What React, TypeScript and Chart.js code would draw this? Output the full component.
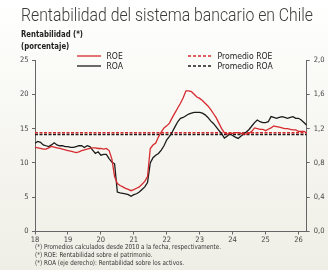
import { useEffect, useRef } from "react";
import { Chart, registerables } from "chart.js";

Chart.register(...registerables);

// Monthly series, starting January 2018 (month index 0)
const START_YEAR = 18;
const roe = [
  12.3, 12.2, 12.1, 12.0, 12.0, 12.2, 12.4, 12.3, 12.2, 12.1,
  12.0, 11.9, 11.8, 11.7, 11.6, 11.5, 11.6, 11.8, 11.9, 12.0,
  12.1, 12.2, 12.2, 12.1, 12.1, 12.0, 12.1, 11.8, 10.6, 8.0,
  7.0, 6.7, 6.5, 6.3, 6.15, 5.95, 6.1, 6.3, 6.5, 6.9,
  7.3, 8.0, 12.1, 12.6, 12.9, 13.8, 14.5, 15.1, 15.4, 15.8,
  16.6, 17.3, 18.0, 18.7, 19.5, 20.5, 20.5, 20.4, 20.0, 19.6,
  19.4, 19.1, 18.7, 18.3, 17.8, 17.2, 16.6, 15.8, 15.0, 14.4,
  14.2, 14.3, 14.3, 14.4, 14.4, 14.3, 14.2, 14.2, 14.3, 14.6,
  15.1, 15.0, 14.9, 14.9, 14.7, 14.9, 15.1, 15.4, 15.3, 15.2,
  15.1, 15.0, 15.0, 14.9, 14.8, 14.8, 14.6, 14.6, 14.6, 14.4,
];
const roa = [
  1.03, 1.05, 1.04, 1.01, 1.0, 0.99, 1.01, 1.035, 1.01, 1.0,
  1.0, 0.99, 0.99, 0.98, 0.98, 0.99, 1.0, 1.0, 0.98, 1.0,
  0.99, 0.95, 0.91, 0.93, 0.89, 0.9, 0.9, 0.85, 0.81, 0.79,
  0.46, 0.45, 0.445, 0.44, 0.43, 0.41, 0.43, 0.44, 0.46, 0.49,
  0.52, 0.57, 0.8, 0.86, 0.89, 0.91, 0.95, 1.0, 1.07, 1.11,
  1.16, 1.22, 1.28, 1.32, 1.33, 1.35, 1.37, 1.38, 1.39, 1.39,
  1.39, 1.38, 1.36, 1.33, 1.29, 1.26, 1.22, 1.18, 1.14, 1.09,
  1.11, 1.14, 1.12, 1.1, 1.085, 1.11, 1.14, 1.16, 1.19, 1.23,
  1.27, 1.3, 1.28, 1.27, 1.27, 1.28, 1.34, 1.33, 1.32, 1.33,
  1.34, 1.33, 1.32, 1.33, 1.34, 1.32, 1.32, 1.3, 1.27, 1.24,
];
const promedioROE = 14.4;
const promedioROA = 1.13;
const xTickYears = [18, 19, 20, 21, 22, 23, 24, 25, 26];
const X_MIN = 18;
const X_MAX = 26.25;

const TITLE = "Rentabilidad del sistema bancario en Chile";
const SUB1 = "Rentabilidad (*)";
const SUB2 = "(porcentaje)";
const NOTES = [
  "(*) Promedios calculados desde 2010 a la fecha, respectivamente.",
  "(*) ROE: Rentabilidad sobre el patrimonio.",
  "(*) ROA (eje derecho): Rentabilidad sobre los activos.",
];

const RED = "#d62a2f";
const BLACK = "#1b1b1b";
const COND = '"Liberation Sans Narrow", "DejaVu Sans Condensed", "Liberation Sans", sans-serif';

const toPoints = (vals: number[]) =>
  vals.map((v, i) => ({ x: START_YEAR + i / 12, y: v }));

// draw text horizontally scaled by factor sx
function drawScaled(ctx: any, text: string, x: number, y: number, sx: number) {
  ctx.save();
  ctx.translate(x, y);
  ctx.scale(sx, 1);
  ctx.fillText(text, 0, 0);
  ctx.restore();
}

const decorPlugin = {
  id: "decor",
  beforeDraw(chart: any) {
    const { ctx, width, height } = chart;
    ctx.save();
    const g = ctx.createLinearGradient(0, 0, 0, height);
    g.addColorStop(0, "#ffffff");
    g.addColorStop(0.22, "#fbfbf8");
    g.addColorStop(1, "#efeee6");
    ctx.fillStyle = g;
    ctx.fillRect(0, 0, width, height);
    ctx.restore();
  },
  afterDraw(chart: any) {
    const { ctx } = chart;
    ctx.save();
    ctx.textBaseline = "middle";
    ctx.textAlign = "left";
    // Title
    ctx.fillStyle = "#3a3a3a";
    ctx.font = '300 17.5px Roboto, "Liberation Sans", sans-serif';
    let sx = 292 / ctx.measureText(TITLE).width;
    drawScaled(ctx, TITLE, 21, 17, sx);
    // Subtitle
    ctx.fillStyle = "#222";
    ctx.font = "bold 8.5px " + COND;
    sx = 62 / ctx.measureText(SUB1).width;
    drawScaled(ctx, SUB1, 21, 35, sx);
    drawScaled(ctx, SUB2, 21, 46.5, sx);
    // Legend
    ctx.font = "8.5px " + COND;
    ctx.fillStyle = "#222";
    sx = 55 / ctx.measureText("Promedio ROE").width;
    const legend = [
      { label: "ROE", color: RED, dash: [], x: 77, y: 56 },
      { label: "ROA", color: BLACK, dash: [], x: 77, y: 66 },
      { label: "Promedio ROE", color: RED, dash: [3, 2], x: 188, y: 56 },
      { label: "Promedio ROA", color: BLACK, dash: [3, 2], x: 188, y: 66 },
    ];
    legend.forEach((l) => {
      ctx.beginPath();
      ctx.setLineDash(l.dash);
      ctx.strokeStyle = l.color;
      ctx.lineWidth = 1.3;
      ctx.moveTo(l.x, l.y);
      ctx.lineTo(l.x + 24, l.y);
      ctx.stroke();
      ctx.setLineDash([]);
      drawScaled(ctx, l.label, l.x + 29.5, l.y + 0.5, sx);
    });
    // Footnotes
    ctx.font = "6.8px " + COND;
    ctx.fillStyle = "#333";
    sx = 186 / ctx.measureText(NOTES[0]).width;
    NOTES.forEach((n, i) => drawScaled(ctx, n, 35, 247.3 + i * 8, sx));
    ctx.restore();
  },
};

export default function App() {
  const ref = useRef<HTMLCanvasElement | null>(null);
  useEffect(() => {
    if (!ref.current) return;
    const tickFont = { family: COND, size: 7.5 };
    const chart = new Chart(ref.current, {
      type: "line",
      data: {
        datasets: [
          {
            label: "ROE",
            data: toPoints(roe),
            borderColor: RED,
            borderWidth: 1.3,
            pointRadius: 0,
            yAxisID: "y",
            tension: 0,
          },
          {
            label: "ROA",
            data: toPoints(roa),
            borderColor: BLACK,
            borderWidth: 1.3,
            pointRadius: 0,
            yAxisID: "y2",
            tension: 0,
          },
          {
            label: "Promedio ROE",
            data: [
              { x: X_MIN, y: promedioROE },
              { x: X_MAX, y: promedioROE },
            ],
            borderColor: RED,
            borderWidth: 1.5,
            borderDash: [3, 1.5],
            pointRadius: 0,
            yAxisID: "y",
          },
          {
            label: "Promedio ROA",
            data: [
              { x: X_MIN, y: promedioROA },
              { x: X_MAX, y: promedioROA },
            ],
            borderColor: BLACK,
            borderWidth: 1.5,
            borderDash: [3, 1.5],
            pointRadius: 0,
            yAxisID: "y2",
          },
        ],
      },
      options: {
        animation: false,
        responsive: false,
        maintainAspectRatio: false,
        layout: { padding: { top: 60, bottom: 24, left: 0, right: 0 } },
        plugins: { legend: { display: false }, tooltip: { enabled: false } },
        scales: {
          x: {
            type: "linear",
            min: X_MIN,
            max: X_MAX,
            afterBuildTicks: (s: any) => {
              s.ticks = xTickYears.map((v) => ({ value: v }));
            },
            afterFit: (s: any) => {
              s.height = 14.5;
            },
            ticks: { font: tickFont, color: "#444", padding: 1, maxRotation: 0, autoSkip: false },
            grid: { drawOnChartArea: false, drawTicks: true, tickLength: 3, color: "#666" },
            border: { color: "#666", width: 1 },
          },
          y: {
            type: "linear",
            position: "left",
            min: 0,
            max: 25,
            ticks: { stepSize: 5, font: tickFont, color: "#444", padding: 3.5 },
            afterFit: (s: any) => {
              s.width = 35;
            },
            grid: { drawOnChartArea: false, drawTicks: true, tickLength: 3, color: "#666" },
            border: { color: "#666", width: 1 },
          },
          y2: {
            type: "linear",
            position: "right",
            min: 0,
            max: 2,
            ticks: {
              stepSize: 0.4,
              font: tickFont,
              color: "#444",
              padding: 4,
              callback: (v: any) => Number(v).toFixed(1).replace(".", ","),
            },
            afterFit: (s: any) => {
              s.width = 21.3;
            },
            grid: { drawOnChartArea: false, drawTicks: true, tickLength: 3, color: "#666" },
            border: { color: "#666", width: 1 },
          },
        },
      },
      plugins: [decorPlugin],
    } as any);
    return () => chart.destroy();
  }, []);
  return (
    <div style={{ position: "fixed", left: 0, top: 0, width: 328, height: 270 }}>
      <canvas ref={ref} width={328} height={270} style={{ display: "block", width: 328, height: 270 }} />
    </div>
  );
}
